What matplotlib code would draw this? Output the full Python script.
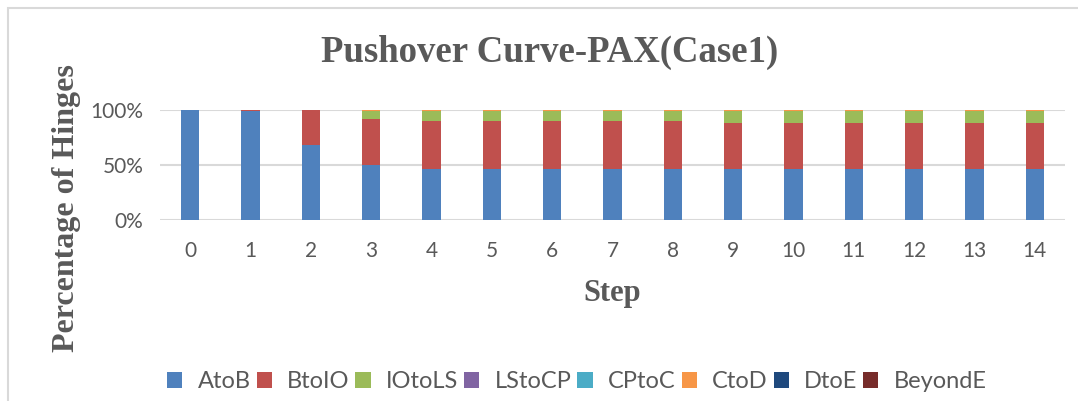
import numpy as np
import matplotlib
matplotlib.use('Agg')
import matplotlib.pyplot as plt
from matplotlib.patches import Rectangle

steps = [str(i) for i in range(15)]
states = ['AtoB', 'BtoIO', 'IOtoLS', 'LStoCP', 'CPtoC', 'CtoD', 'DtoE', 'BeyondE']
colors = ['#4F81BD', '#C0504D', '#9BBB59', '#8064A2', '#4BACC6', '#F79646', '#1F497D', '#772C2A']

# percentage of hinges in each state per step
AtoB    = [100, 99, 68, 50, 46, 46, 46, 46, 46, 46, 46, 46, 46, 46, 46]
BtoIO   = [0, 1, 32, 42, 44, 44, 44, 44, 44, 42, 42, 42, 42, 42, 42]
IOtoLS  = [0, 0, 0, 7, 9, 9, 9, 9, 9, 11, 11, 11, 11, 11, 11]
LStoCP  = [0] * 15
CPtoC   = [0] * 15
CtoD    = [0, 0, 0, 1, 1, 1, 1, 1, 1, 1, 1, 1, 1, 1, 1]
DtoE    = [0] * 15
BeyondE = [0] * 15
series = [AtoB, BtoIO, IOtoLS, LStoCP, CPtoC, CtoD, DtoE, BeyondE]

txt = '#595959'
W, H = 1078, 401
fig = plt.figure(figsize=(W / 100, H / 100), dpi=100)
fig.patches.append(Rectangle((8 / W, -0.1), 1.2, 1.1 - 8 / H, transform=fig.transFigure,
                             fill=False, edgecolor='#d9d9d9', lw=1.5))

ax = fig.add_axes([160 / W, 1 - 220 / H, (1065 - 160) / W, 110 / H])
x = np.arange(len(steps))
bottom = np.zeros(len(steps))
for name, vals, c in zip(states, series, colors):
    v = np.array(vals) / 100.0
    ax.bar(x, v, 0.3, bottom=bottom, color=c, label=name, zorder=3)
    bottom += v

ax.set_xlim(-0.5, 14.5)
ax.set_ylim(0, 1)
ax.set_yticks([0, 0.5, 1])
ax.set_yticklabels(['0%', '50%', '100%'])
ax.set_xticks(x)
ax.set_xticklabels(steps)
for s in ax.spines.values():
    s.set_visible(False)
ax.grid(axis='y', color='#d9d9d9', lw=1.5, zorder=0)
ax.tick_params(length=0, labelsize=15, colors=txt, labelfontfamily='Lato')
ax.tick_params(axis='x', pad=15)
ax.tick_params(axis='y', pad=12)

fig.text(550 / W, 1 - 52 / H, 'Pushover Curve-PAX(Case1)', ha='center', va='center',
         family='Liberation Serif', weight='bold', fontsize=26.5, color=txt)
fig.text(612 / W, 1 - 294 / H, 'Step', ha='center', va='center',
         family='Liberation Serif', weight='bold', fontsize=22, color=txt)
fig.text(67 / W, 1 - 208 / H, 'Percentage of Hinges', ha='center', va='center', rotation=90,
         family='Liberation Serif', weight='bold', fontsize=23, color=txt)

h, l = ax.get_legend_handles_labels()
leg = fig.legend(h, l, loc='center', bbox_to_anchor=(577 / W, 1 - 382 / H), ncol=8,
                 frameon=False, handlelength=0.64, handleheight=0.64, handletextpad=0.65,
                 columnspacing=0.25, prop={'family': 'Lato', 'size': 17})
for t in leg.get_texts():
    t.set_color(txt)

fig.savefig('out.png', dpi=100)
